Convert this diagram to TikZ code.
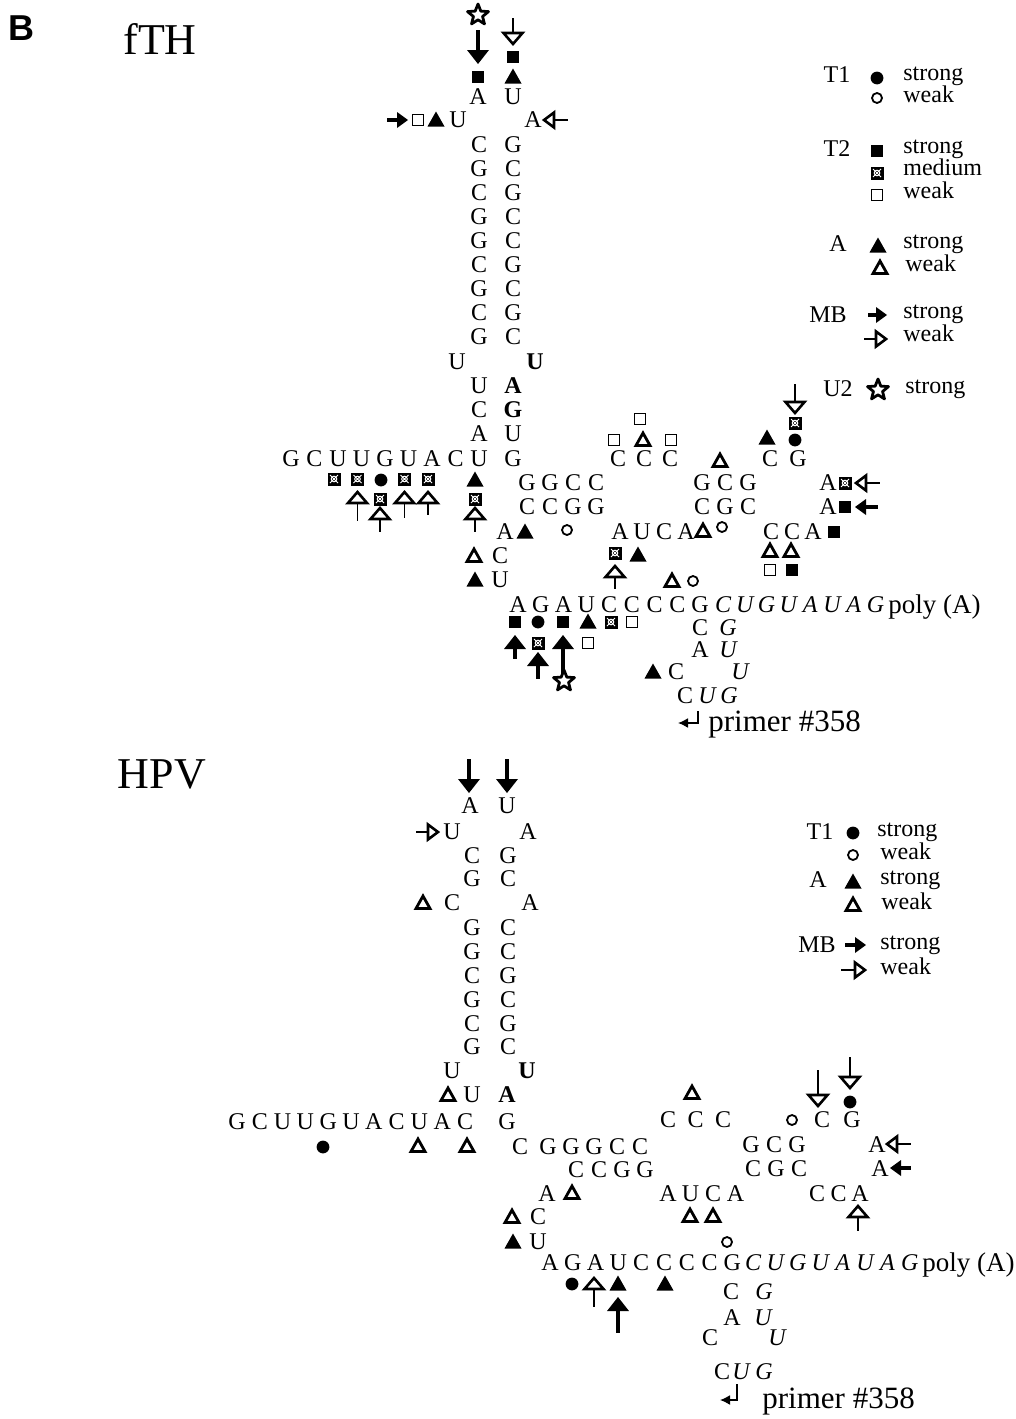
\documentclass[tikz,border=0pt]{standalone}
\usepackage{fontspec}
\setmainfont{Liberation Serif}
\newfontfamily\labsans{Liberation Sans}
\usetikzlibrary{arrows.meta}

\tikzset{
  nt/.style={font=\fontsize{12}{14}\selectfont, inner sep=0pt, text height=7.9pt, text depth=0pt},
  ntb/.style={nt, font=\fontsize{12}{14}\selectfont\bfseries},
  nti/.style={nt, font=\fontsize{12}{14}\selectfont\itshape},
  polytext/.style={font=\fontsize{13.5}{15}\selectfont, inner sep=0pt, anchor=base west},
  lg/.style={font=\fontsize{12}{14}\selectfont, inner sep=0pt, anchor=base west},
  lgr/.style={font=\fontsize{12}{14}\selectfont, inner sep=0pt, anchor=base},
  title/.style={font=\fontsize{22}{26}\selectfont, inner sep=0pt, anchor=base},
  primertext/.style={font=\fontsize{15.5}{18}\selectfont, inner sep=0pt, anchor=base west},
  % cleavage markers
  pics/dotF/.style={code={\fill (0,0) circle (3.2pt);}},
  pics/dotO/.style={code={\draw[line width=0.9pt] (0,0) circle (2.5pt);}},
  pics/sqF/.style={code={\fill (-6,-6) rectangle (6,6);}},
  pics/sqO/.style={code={\draw[line width=0.8pt] (-5.5,-5.5) rectangle (5.5,5.5);}},
  pics/sqM/.style={code={\fill (-6.5,-6.5) rectangle (6.5,6.5);
      \draw[white, line width=0.5pt] (0,0) circle (1.4pt);
      \draw[white, line width=0.4pt] (-4,-4) -- (4,4) (-4,4) -- (4,-4);}},
  pics/triF/.style={code={\fill (-8.5,6.5) -- (8.5,6.5) -- (0,-8.5) -- cycle;}},
  pics/triO/.style={code={\draw[line width=1.4pt] (-7,5.5) -- (7,5.5) -- (0,-7) -- cycle;}},
  % vertical arrows: tip at the origin, pointing down; #1 = stem length
  pics/arrS/.style={code={\fill (-11,-14) -- (11,-14) -- (0,0) -- cycle;
      \fill (-2.2,-13) rectangle (2.2,{-14-#1});}},
  pics/arrS/.default=10,
  pics/arrW/.style={code={\draw[line width=0.9pt] (0,-12.5) -- (0,{-12-#1});
      \draw[line width=1.3pt, fill=white] (-9.5,-12) -- (9.5,-12) -- (0,-1) -- cycle;}},
  pics/arrW/.default=12,
  % smaller arrows used for the MB marks
  pics/mbS/.style={code={\fill (-8,-11) -- (8,-11) -- (0,0) -- cycle;
      \fill (-2.2,-10) rectangle (2.2,{-11-#1});}},
  pics/mbS/.default=8,
  pics/mbW/.style={code={\draw[line width=0.9pt] (0,-11.5) -- (0,{-11-#1});
      \draw[line width=1.3pt, fill=white] (-7.5,-11) -- (7.5,-11) -- (0,-1) -- cycle;}},
  pics/mbW/.default=12,
  pics/starO/.style={code={\draw[line width=1.4pt, line join=round, fill=white]
      (0,-11) -- (2.82,-3.88) -- (10.46,-3.40) -- (4.56,1.48) -- (6.47,8.90) -- (0,4.8)
      -- (-6.47,8.90) -- (-4.56,1.48) -- (-10.46,-3.40) -- (-2.82,-3.88) -- cycle;}},
}

% a row of evenly spaced letters: style, name prefix, first x, step, y, letters
\newcommand\seqrow[6]{%
  \foreach \ltr [count=\i] in {#6} {\node[#1] (#2\i) at ({#3+(\i-1)*#4},#5) {\ltr};}}

\begin{document}
\begin{tikzpicture}[x=0.5pt, y=-0.5pt]
\useasboundingbox (0,0) rectangle (1016,1419);

% ---------------- panel label and fTH ----------------
\node[font=\labsans\bfseries\fontsize{18}{20}\selectfont, inner sep=0pt, anchor=base west] (panelB) at (8,40) {B};
\node[title] (fth) at (160,54) {fTH};

% apical loop
\pic at (478,15) {starO};
\pic at (478,64) {arrS=20};
\pic at (478,77) {sqF};
\pic at (513,45) {arrW=15};
\pic at (513,57) {sqF};
\pic at (513,77) {triF};
\node[nt] (fA1) at (478,97) {A};
\node[nt] (fU1) at (513,97) {U};
\pic[rotate=90] at (408,120) {mbS=10};
\pic at (418,120) {sqO};
\pic at (436,120) {triF};
\node[nt] (fU2) at (458,120) {U};
\node[nt] (fA2) at (533,120) {A};
\pic[rotate=-90] at (543,120) {mbW=14};

% stem
\foreach \lt/\rt [count=\i] in {C/G,G/C,C/G,G/C,G/C,C/G,G/C,C/G,G/C} {
  \node[nt] (fsl\i) at (479,{145+24*(\i-1)}) {\lt};
  \node[nt] (fsr\i) at (513,{145+24*(\i-1)}) {\rt};
}
\node[nt] (fU3) at (457,362) {U};
\node[ntb] (fU4) at (535,362) {U};
\node[nt] (fb1) at (479,386) {U};
\node[ntb] (fb1r) at (513,386) {A};
\node[nt] (fb2) at (479,410) {C};
\node[ntb] (fb2r) at (513,410) {G};
\node[nt] (fb3) at (479,434) {A};
\node[nt] (fb3r) at (513,434) {U};
\seqrow{nt}{fL}{291}{23.5}{459}{G,C,U,U,G,U,A,C,U}
\node[nt] (fG5) at (513,459) {G};

% markers on the 5' tail
\pic at (334,479) {sqM};
\pic at (357.5,479) {sqM};
\pic at (381,480) {dotF};
\pic at (404.5,479) {sqM};
\pic at (428,479) {sqM};
\pic at (475,480) {triF};
\pic[rotate=180] at (357.5,491) {arrW=18};
\pic at (380,499) {sqM};
\pic[rotate=180] at (380,507) {arrW=13};
\pic[rotate=180] at (404.5,491) {arrW=15};
\pic[rotate=180] at (428,491) {arrW=12};
\pic at (475,499) {sqM};
\pic[rotate=180] at (475,507) {arrW=13};

% central region
\seqrow{nt}{fGG}{527}{23}{483}{G,G,C,C}
\seqrow{nt}{fCC}{527}{23}{507}{C,C,G,G}
\node[nt] (fA6) at (505,532) {A};
\pic at (525,532) {triF};
\pic at (567,530) {dotO};
\pic at (474,556) {triO};
\node[nt] (fC7) at (500,556) {C};
\pic at (475,580) {triF};
\node[nt] (fU8) at (500,580) {U};

\seqrow{nt}{fCCC}{618}{26}{459}{C,C,C}
\pic at (614,440) {sqO};
\pic at (643,440) {triO};
\pic at (671,440) {sqO};
\pic at (640,419) {sqO};
\seqrow{nt}{fAU}{620}{22}{532}{A,U,C,A}
\pic at (703,531) {triO};
\pic at (722,527) {dotO};
\pic at (615,553) {sqM};
\pic at (638,555) {triF};
\pic[rotate=180] at (615,565) {arrW=12};
\pic at (672,581) {triO};
\pic at (693,581) {dotO};

\pic at (720,461) {triO};
\seqrow{nt}{fGCG}{702}{23}{483}{G,C,G}
\seqrow{nt}{fCGC}{702}{23}{507}{C,G,C}
\node[nt] (fC9) at (770,459) {C};
\node[nt] (fG9) at (798,459) {G};
\pic at (767,438) {triF};
\pic at (795,440) {dotF};
\pic at (795,423) {sqM};
\pic at (795,414) {arrW=18};
\node[nt] (fA10) at (828,483) {A};
\pic at (845,483) {sqM};
\pic[rotate=-90] at (855,483) {mbW=14};
\node[nt] (fA11) at (828,507) {A};
\pic at (845,507) {sqF};
\pic[rotate=-90] at (855,507) {mbS=12};
\seqrow{nt}{fCCA}{771}{21}{532}{C,C,A}
\pic at (834,532) {sqF};
\pic at (770,551) {triO};
\pic at (791,551) {triO};
\pic at (770,570) {sqO};
\pic at (792,570) {sqF};

% 3' region
\seqrow{nt}{fB}{518}{22.75}{605}{A,G,A,U,C,C,C,C,G}
\seqrow{nti}{fI}{723}{21.8}{605}{C,U,G,U,A,U,A,G}
\node[polytext] (fpoly) at (888,613) {poly (A)};
\pic at (515,622) {sqF};
\pic at (538,622) {dotF};
\pic at (563,622) {sqF};
\pic at (588,622) {triF};
\pic at (611,622) {sqM};
\pic at (632,622) {sqO};
\pic[rotate=180] at (515,635) {arrS=10};
\pic at (538,643) {sqM};
\pic[rotate=180] at (538,652) {arrS=13};
\pic[rotate=180] at (563,635) {arrS=30};
\pic at (564,681) {starO};
\pic at (588,643) {sqO};

\node[nt] (fC12) at (700,628) {C};
\node[nti] (fG12) at (728,628) {G};
\node[nt] (fA13) at (700,650) {A};
\node[nti] (fU13) at (728,650) {U};
\pic at (653,672) {triF};
\node[nt] (fC14) at (676,672) {C};
\node[nti] (fU14) at (740,672) {U};
\node[nt] (fC15) at (685,696) {C};
\node[nti] (fU15) at (707,696) {U};
\node[nti] (fG15) at (729,696) {G};

\coordinate (fpa1) at (698,711);
\coordinate (fpa2) at (678,723);
\draw[line width=0.8pt, -{Latex[length=5pt,width=5pt]}] (fpa1) |- (fpa2);
\node[primertext] (fprimer) at (708,731) {primer \#358};

% legend
\node[lgr] (lT1) at (837,82) {T1};
\pic at (877,78) {dotF};
\node[lg] (lT1s) at (903,80) {strong};
\pic at (877,98) {dotO};
\node[lg] (lT1w) at (903,102) {weak};
\node[lgr] (lT2) at (837,156) {T2};
\pic at (877,151) {sqF};
\node[lg] (lT2s) at (903,153) {strong};
\pic at (877,173) {sqM};
\node[lg] (lT2m) at (903,175) {medium};
\pic at (877,195) {sqO};
\node[lg] (lT2w) at (903,198) {weak};
\node[lgr] (lA) at (838,251) {A};
\pic at (878,246) {triF};
\node[lg] (lAs) at (903,248) {strong};
\pic at (880,268) {triO};
\node[lg] (lAw) at (905,271) {weak};
\node[lgr] (lMB) at (828,322) {MB};
\pic[rotate=90] at (887,315) {mbS=8};
\node[lg] (lMBs) at (903,318) {strong};
\pic[rotate=90] at (887,339) {mbW=12};
\node[lg] (lMBw) at (903,341) {weak};
\node[lgr] (lU2) at (838,396) {U2};
\pic at (878,390) {starO};
\node[lg] (lU2s) at (905,393) {strong};

% ---------------- HPV ----------------
\node[title] (hpv) at (162,788) {HPV};

\pic at (469,793) {arrS=20};
\pic at (507,793) {arrS=20};
\node[nt] (hA1) at (470,806) {A};
\node[nt] (hU1) at (507,806) {U};
\pic[rotate=90] at (439,832) {mbW=12};
\node[nt] (hU2) at (452,832) {U};
\node[nt] (hA2) at (528,832) {A};
\node[nt] (hC3) at (472,856) {C};
\node[nt] (hG3) at (508,856) {G};
\node[nt] (hG4) at (472,879) {G};
\node[nt] (hC4) at (508,879) {C};
\pic at (423,903) {triO};
\node[nt] (hC5) at (452,903) {C};
\node[nt] (hA5) at (530,903) {A};
\foreach \lt/\rt [count=\i] in {G/C,G/C,C/G,G/C,C/G,G/C} {
  \node[nt] (hsl\i) at (472,{928+23.8*(\i-1)}) {\lt};
  \node[nt] (hsr\i) at (508,{928+23.8*(\i-1)}) {\rt};
}
\node[nt] (hU6) at (452,1071) {U};
\node[ntb] (hU7) at (527,1071) {U};
\pic at (448,1095) {triO};
\node[nt] (hU8) at (472,1095) {U};
\node[ntb] (hA8) at (507,1095) {A};
\seqrow{nt}{hL}{237}{22.8}{1122}{G,C,U,U,G,U,A,C,U,A,C}
\node[nt] (hG9) at (507,1122) {G};
\pic at (323,1147) {dotF};
\pic at (418,1146) {triO};
\pic at (467,1146) {triO};

\node[nt] (hC10) at (520,1147) {C};
\seqrow{nt}{hGG}{548}{23}{1147}{G,G,G,C,C}
\seqrow{nt}{hCC}{576}{23}{1170}{C,C,G,G}
\node[nt] (hA11) at (547,1194) {A};
\pic at (572,1193) {triO};
\pic at (512,1217) {triO};
\node[nt] (hC12) at (538,1217) {C};
\pic at (513,1242) {triF};
\node[nt] (hU13) at (538,1242) {U};

\pic at (692,1093) {triO};
\seqrow{nt}{hCCC}{668}{27.5}{1120}{C,C,C}
\seqrow{nt}{hAU}{668}{22.5}{1194}{A,U,C,A}
\pic at (690,1216) {triO};
\pic at (713,1216) {triO};
\pic at (727,1242) {dotO};

\pic at (792,1120) {dotO};
\node[nt] (hC14) at (822,1120) {C};
\node[nt] (hG14) at (852,1120) {G};
\pic at (818,1107) {arrW=25};
\pic at (850,1089) {arrW=20};
\pic at (850,1102) {dotF};
\seqrow{nt}{hGCG}{751}{23}{1145}{G,C,G}
\seqrow{nt}{hCGC}{753}{23}{1169}{C,G,C}
\node[nt] (hA15) at (877,1145) {A};
\pic[rotate=-90] at (886,1144) {mbW=14};
\node[nt] (hA16) at (880,1169) {A};
\pic[rotate=-90] at (890,1168) {mbS=10};
\seqrow{nt}{hCCA}{817}{21.5}{1194}{C,C,A}
\pic[rotate=180] at (858,1205) {arrW=14};

\seqrow{nt}{hB}{550}{22.8}{1263}{A,G,A,U,C,C,C,C,G}
\seqrow{nti}{hI}{753}{22.4}{1263}{C,U,G,U,A,U,A,G}
\node[polytext] (hpoly) at (922,1271) {poly (A)};
\pic at (572,1284) {dotF};
\pic[rotate=180] at (594,1277) {arrW=18};
\pic at (618,1284) {triF};
\pic[rotate=180] at (618,1297) {arrS=22};
\pic at (665,1284) {triF};

\node[nt] (hC17) at (731,1292) {C};
\node[nti] (hG17) at (764,1292) {G};
\node[nt] (hA18) at (732,1318) {A};
\node[nti] (hU18) at (763,1318) {U};
\node[nt] (hC19) at (710,1338) {C};
\node[nti] (hU19) at (777,1338) {U};
\node[nt] (hC20) at (722,1372) {C};
\node[nti] (hU20) at (741,1372) {U};
\node[nti] (hG20) at (764,1372) {G};

\coordinate (hpa1) at (737,1384);
\coordinate (hpa2) at (720,1400);
\draw[line width=0.8pt, -{Latex[length=5pt,width=5pt]}] (hpa1) |- (hpa2);
\node[primertext] (hprimer) at (762,1408) {primer \#358};

% legend
\node[lgr] (mT1) at (820,839) {T1};
\pic at (853,833) {dotF};
\node[lg] (mT1s) at (877,836) {strong};
\pic at (853,855) {dotO};
\node[lg] (mT1w) at (880,859) {weak};
\node[lgr] (mA) at (818,887) {A};
\pic at (853,882) {triF};
\node[lg] (mAs) at (880,884) {strong};
\pic at (853,905) {triO};
\node[lg] (mAw) at (881,909) {weak};
\node[lgr] (mMB) at (817,952) {MB};
\pic[rotate=90] at (866,945) {mbS=10};
\node[lg] (mMBs) at (880,949) {strong};
\pic[rotate=90] at (866,970) {mbW=14};
\node[lg] (mMBw) at (880,974) {weak};
\end{tikzpicture}
\end{document}
